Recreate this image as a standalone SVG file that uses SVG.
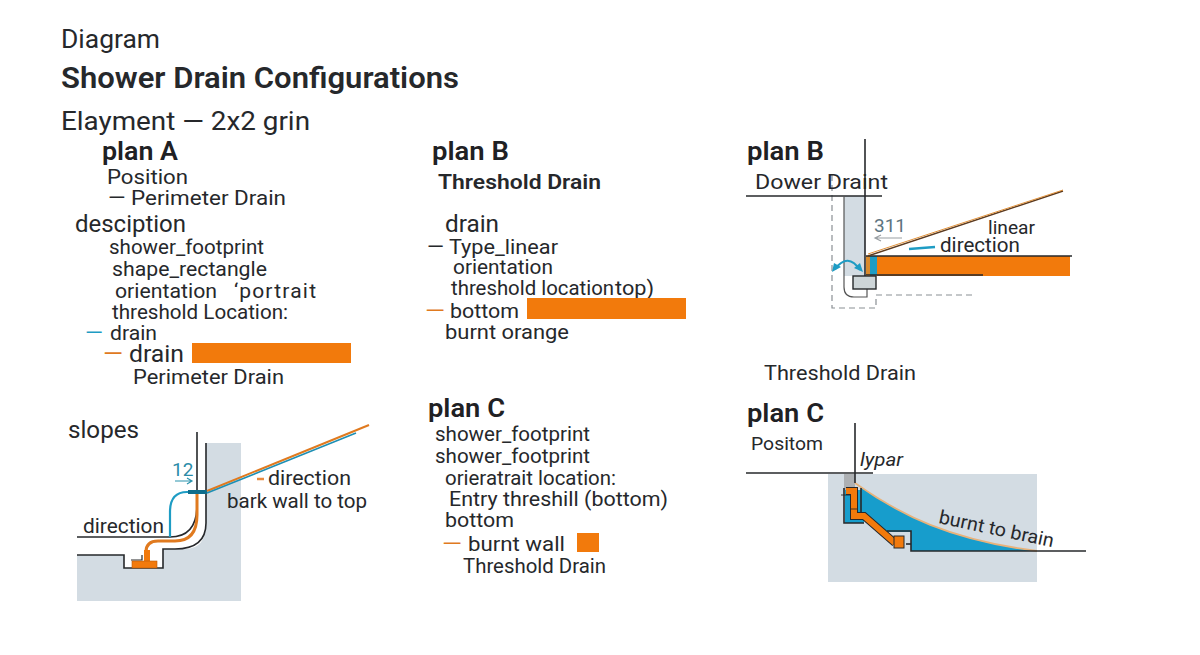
<svg xmlns="http://www.w3.org/2000/svg" width="1200" height="655" viewBox="0 0 1200 655">
<style>
text{font-family:"Roboto","Liberation Sans",sans-serif;fill:#26282b;font-size:21px}
.h{font-weight:600;font-size:26px;fill:#1f2124}
.l{fill:none;stroke:#26282b;stroke-width:1.6}
.o{fill:#f27a0c}
.ol{fill:none;stroke:#e07a1f;stroke-width:2}
.bl{fill:none;stroke:#1e9cc4;stroke-width:2.2}
.g{fill:#d3dce3}
.d{fill:none;stroke:#8a8f94;stroke-width:1.2;stroke-dasharray:6 4}
</style>
<rect width="1200" height="655" fill="#fff"/>
<g id="titles">
<text x="61" y="48" style="font-size:26px" textLength="99" lengthAdjust="spacingAndGlyphs">Diagram</text>
<text x="61" y="88" style="font-size:30px;font-weight:600" textLength="398" lengthAdjust="spacingAndGlyphs">Shower Drain Configurations</text>
<text x="61" y="130" style="font-size:26px" textLength="249" lengthAdjust="spacingAndGlyphs">Elayment — 2x2 grin</text>
</g>
<g id="plan-a-text">
<text x="102" y="160" class="h" textLength="76" lengthAdjust="spacingAndGlyphs">plan A</text>
<text x="107" y="184" textLength="81" lengthAdjust="spacingAndGlyphs">Position</text>
<text x="108" y="205" textLength="178" lengthAdjust="spacingAndGlyphs">— Perimeter Drain</text>
<text x="75" y="232" style="font-size:24px" textLength="111" lengthAdjust="spacingAndGlyphs">desciption</text>
<text x="109" y="254" textLength="155" lengthAdjust="spacingAndGlyphs">shower_footprint</text>
<text x="112" y="276" textLength="155" lengthAdjust="spacingAndGlyphs">shape_rectangle</text>
<text x="115" y="298" textLength="102" lengthAdjust="spacingAndGlyphs">orientation</text>
<text x="234" y="298" textLength="82" lengthAdjust="spacing">‘portrait</text>
<text x="112" y="319" textLength="176" lengthAdjust="spacingAndGlyphs">threshold Location:</text>
<text x="85" y="340" style="fill:#1e9cc4" textLength="18" lengthAdjust="spacingAndGlyphs">—</text>
<text x="110" y="340" textLength="47" lengthAdjust="spacingAndGlyphs">drain</text>
<text x="103" y="362" style="font-size:24px;fill:#e07a1f" textLength="20" lengthAdjust="spacingAndGlyphs">—</text>
<text x="129" y="362" style="font-size:24px" textLength="55" lengthAdjust="spacingAndGlyphs">drain</text>
<rect x="192" y="343" width="159" height="20" class="o"/>
<text x="133" y="384" textLength="151" lengthAdjust="spacingAndGlyphs">Perimeter Drain</text>
<text x="68" y="438" style="font-size:24px" textLength="71" lengthAdjust="spacingAndGlyphs">slopes</text>
</g>
<g id="plan-a-drawing">
<path class="g" d="M206 443H241V601H77V555H124V568H163V549H185Q206 549 206 523Z"/>
<path class="l" d="M77 555H124V568H163V549H175Q206 549 206 523V443"/>
<path class="l" style="stroke-width:1.2" d="M131 560H142V555"/>
<path class="l" d="M77 537H170Q197 537 197 505V432"/>
<path class="ol" style="stroke-width:3" d="M197 492V515Q197 541 175 541H158Q146 541 146 552"/>
<path class="bl" d="M170 537V512Q170 492 187 492H205"/>
<path d="M188 490H207V494H188Z" fill="#0f6d8c"/>
<rect x="144" y="550" width="6" height="11" class="o"/>
<rect x="132" y="561" width="25" height="7" class="o" stroke="#b85a08" stroke-width=".6"/>
<path class="ol" d="M207 491L369 425"/>
<path fill="none" stroke="#1e8fb4" stroke-width="1.6" d="M207 493L356 433"/>
<path d="M175 481H192M187 478L192 481L187 484" fill="none" stroke="#2b93ad" stroke-width="1.2"/>
<text x="172" y="476" style="font-size:19px;fill:#2b8ca8">12</text>
<path d="M257 479H264" stroke="#e98b3f" stroke-width="2.5"/>
<text x="268" y="485" textLength="83" lengthAdjust="spacingAndGlyphs">direction</text>
<text x="227" y="508" textLength="140" lengthAdjust="spacingAndGlyphs">bark wall to top</text>
<text x="83" y="533" textLength="81" lengthAdjust="spacingAndGlyphs">direction</text>
</g>
<g id="plan-b-text">
<text x="432" y="160" class="h" textLength="77" lengthAdjust="spacingAndGlyphs">plan B</text>
<text x="438" y="189" style="font-weight:600;font-size:21px" textLength="163" lengthAdjust="spacingAndGlyphs">Threshold Drain</text>
<text x="445" y="232" style="font-size:24px" textLength="54" lengthAdjust="spacingAndGlyphs">drain</text>
<text x="427" y="254" textLength="131" lengthAdjust="spacingAndGlyphs">— Type_linear</text>
<text x="453" y="274" textLength="100" lengthAdjust="spacingAndGlyphs">orientation</text>
<text x="451" y="295" textLength="163" lengthAdjust="spacingAndGlyphs">threshold location</text>
<text x="615" y="295" textLength="39" lengthAdjust="spacingAndGlyphs">top)</text>
<text x="425" y="318" style="fill:#e07a1f" textLength="20" lengthAdjust="spacingAndGlyphs">—</text>
<text x="450" y="318" textLength="69" lengthAdjust="spacingAndGlyphs">bottom</text>
<rect x="527" y="298" width="159" height="21" class="o"/>
<text x="445" y="339" textLength="124" lengthAdjust="spacingAndGlyphs">burnt orange</text>
</g>
<g id="plan-b2-drawing">
<text x="747" y="160" class="h" textLength="77" lengthAdjust="spacingAndGlyphs">plan B</text>
<rect x="844" y="196" width="21" height="80" class="g"/>
<path class="d" d="M832 175V308H876V295H972"/>
<text x="755" y="189" textLength="133" lengthAdjust="spacingAndGlyphs">Dower Draint</text>
<path class="l" d="M746 196H882"/>
<path class="l" d="M865 139V276"/>
<path class="l" style="stroke:#555;stroke-width:1.2" d="M844 196V287Q844 297 854 297H867V289"/>
<rect x="853" y="276" width="23" height="13" fill="#cdd5d8" stroke="#26282b" stroke-width="1.4"/>
<rect x="866" y="256" width="4" height="20" fill="#d98a2c"/>
<rect x="870" y="256" width="7" height="19" fill="#1e9cc4"/>
<rect x="877" y="256" width="193" height="20" class="o"/>
<path class="l" d="M866 256H1072"/>
<path class="l" d="M866 275H983"/>
<path fill="none" stroke="#5c3a1e" stroke-width="1.4" d="M868 256L1063 191"/>
<path fill="none" stroke="#e0913a" stroke-width="1" d="M868 254L1063 190"/>
<path class="bl" d="M835 269Q848 252 860 270"/>
<path d="M832 272L834 263L841 267ZM863 272L854 268L860 263Z" fill="#1e9cc4"/>
<text x="874" y="232" style="font-size:19px;fill:#5d7480">311</text>
<path d="M902 238H875M881 235L875 238L881 241" fill="none" stroke="#9a9fa3" stroke-width="1.2"/>
<text x="988" y="234" style="font-size:19px" textLength="47" lengthAdjust="spacingAndGlyphs">linear</text>
<path d="M909 249L935 247" stroke="#1e9cc4" stroke-width="2.4"/>
<text x="940" y="252" textLength="80" lengthAdjust="spacingAndGlyphs">direction</text>
</g>
<g id="plan-c-text">
<text x="428" y="417" class="h" textLength="77" lengthAdjust="spacingAndGlyphs">plan C</text>
<text x="435" y="441" textLength="155" lengthAdjust="spacingAndGlyphs">shower_footprint</text>
<text x="435" y="463" textLength="155" lengthAdjust="spacingAndGlyphs">shower_footprint</text>
<text x="445" y="485" textLength="171" lengthAdjust="spacingAndGlyphs">orieratrait location:</text>
<text x="449" y="506" textLength="219" lengthAdjust="spacingAndGlyphs">Entry threshill (bottom)</text>
<text x="445" y="527" textLength="69" lengthAdjust="spacingAndGlyphs">bottom</text>
<text x="442" y="551" style="fill:#e07a1f" textLength="20" lengthAdjust="spacingAndGlyphs">—</text>
<text x="468" y="551" textLength="97" lengthAdjust="spacingAndGlyphs">burnt wall</text>
<rect x="577" y="533" width="22" height="19" class="o"/>
<text x="463" y="573" style="font-size:20px" textLength="143" lengthAdjust="spacingAndGlyphs">Threshold Drain</text>
</g>
<g id="plan-c2-drawing">
<text x="764" y="380" textLength="152" lengthAdjust="spacingAndGlyphs">Threshold Drain</text>
<text x="747" y="422" class="h" textLength="77" lengthAdjust="spacingAndGlyphs">plan C</text>
<text x="751" y="450" style="font-size:19px" textLength="72" lengthAdjust="spacingAndGlyphs">Positom</text>
<text x="860" y="466" style="font-size:19px;font-style:italic" textLength="43" lengthAdjust="spacingAndGlyphs">lypar</text>
<rect x="828" y="474" width="209" height="108" class="g"/>
<path d="M844 474H855V490H844Z" fill="#adb0b3"/>
<path d="M845 490H861V488L855 483C900 515 950 540 1037 551H911V532H887L864 512V523H845Z" fill="#179dcc"/>
<path d="M855 483C900 515 950 540 1037 551" fill="none" stroke="#e8b27a" stroke-width="1.8"/>
<path d="M844 488V523H864M861 488V515" class="l"/>
<path d="M887 531H911V551H1037" class="l"/>
<path d="M911 544H906" class="l"/>
<path d="M846 491H854V516H864L895 543" fill="none" stroke="#26282b" stroke-width="8"/>
<path d="M846 491H854V516H864L895 543" fill="none" stroke="#f27a0c" stroke-width="6"/>
<path d="M841 495H851M851 509H858" fill="none" stroke="#2a2a2a" stroke-width=".9"/>
<rect x="894" y="536" width="10" height="12" class="o" stroke="#26282b"/>
<path class="l" d="M746 473H873"/>
<path class="l" d="M855 423V483"/>
<path class="l" d="M1037 551H1086"/>
<text x="938" y="523" transform="rotate(12 938 523)" style="font-size:19px" textLength="117" lengthAdjust="spacingAndGlyphs">burnt to brain</text>
</g>
</svg>
